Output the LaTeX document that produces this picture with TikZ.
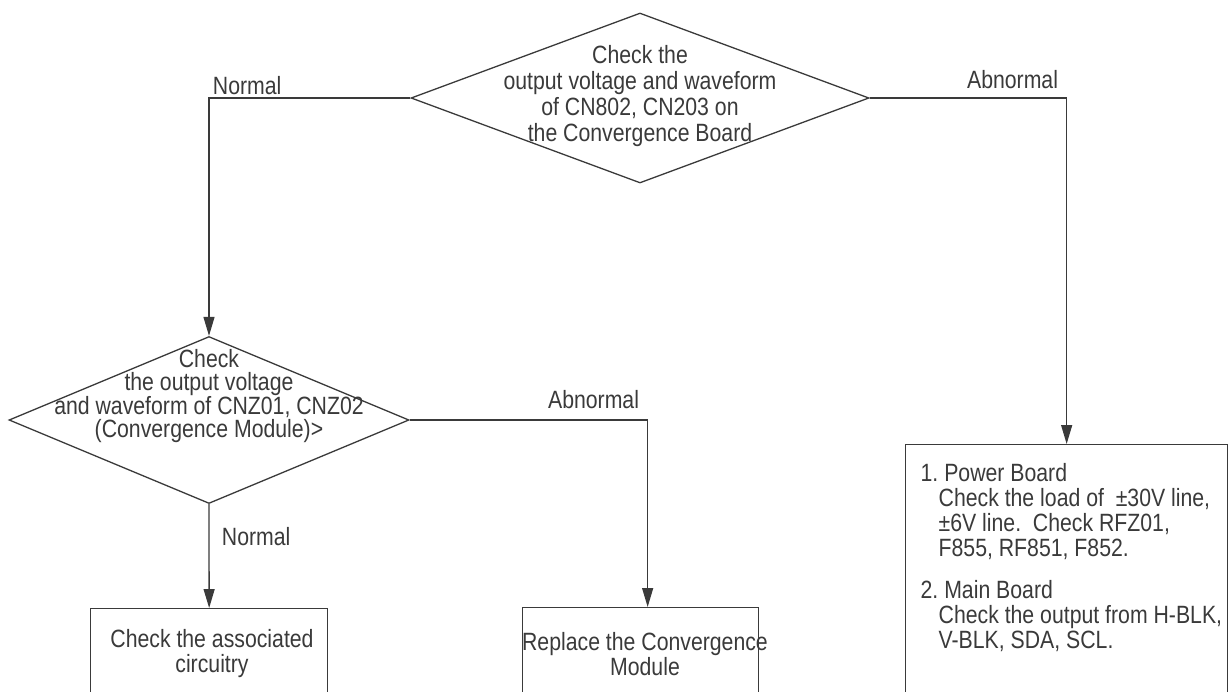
\documentclass[tikz,border=0pt]{standalone}
\usepackage{fontspec}
\setmainfont{Liberation Sans}[FakeStretch=0.85]
\usetikzlibrary{shapes.geometric,arrows.meta}
\definecolor{ink}{HTML}{3A3A3A}

\begin{document}
\begin{tikzpicture}[x=1pt, y=-1pt, line width=1.3pt, color=ink,
  font=\fontsize{25}{25}\selectfont,
  decision/.style 2 args={diamond, draw, inner sep=0pt, minimum width=#1, minimum height=#2},
  box/.style={draw, rectangle, inner sep=0pt, anchor=north west},
  txt/.style={align=center, inner sep=0pt},
  flow/.style={-{Triangle[length=19pt,width=11pt]}}]
  \useasboundingbox (0,0) rectangle (1228,691);
  \clip (0,0) rectangle (1228,691);
  % first check
  \node[decision={458pt}{170pt}] (chk1) at (640,98) {};
  \node[txt, font=\fontsize{25}{26}\selectfont] (chk1txt) at (640,96)
    {Check the\\output voltage and waveform\\of CN802, CN203 on\\the Convergence Board};
  % second check
  \node[decision={400pt}{167pt}] (chk2) at (209,420) {};
  \node[txt, font=\fontsize{25}{23}\selectfont] (chk2txt) at (209,396)
    {Check\\the output voltage\\and waveform of CNZ01, CNZ02\\(Convergence Module)>};
  % end boxes
  \node[box, minimum width=237pt, minimum height=150pt] (assoc) at (90,608) {};
  \node[txt] (assoctxt) at (212,654) {Check the associated\\circuitry};
  \node[box, minimum width=236pt, minimum height=150pt] (replace) at (522,607) {};
  \node[txt] (replacetxt) at (645,654) {Replace the Convergence\\Module};
  \node[box, minimum width=322pt, minimum height=300pt] (boards) at (905,444) {};
  \node[txt, align=left, anchor=north west] (boardstxt) at (920,463)
    {1.\ Power Board\\
     \hspace*{18pt}Check the load of\ \ ±30V line,\\
     \hspace*{18pt}±6V line.\ \ Check RFZ01,\\
     \hspace*{18pt}F855, RF851, F852.\\[17pt]
     2.\ Main Board\\
     \hspace*{18pt}Check the output from H-BLK,\\
     \hspace*{18pt}V-BLK, SDA, SCL.};
  % connectors
  \draw[flow] (chk1.west) -| (chk2.north);
  \draw[flow] (chk1.east) -| (boards.north);
  \draw[flow] (chk2.east) -| ([xshift=7pt]replace.north);
  \draw[flow] (chk2.south) -- (assoc.north);
  % branch labels
  \node[anchor=base west] (normal1) at (209,94) {Normal};
  \node[anchor=base east] (abnormal1) at (1062,88) {Abnormal};
  \node[anchor=base east] (abnormal2) at (643,408) {Abnormal};
  \node[anchor=base west] (normal2) at (218,545) {Normal};
\end{tikzpicture}
\end{document}
